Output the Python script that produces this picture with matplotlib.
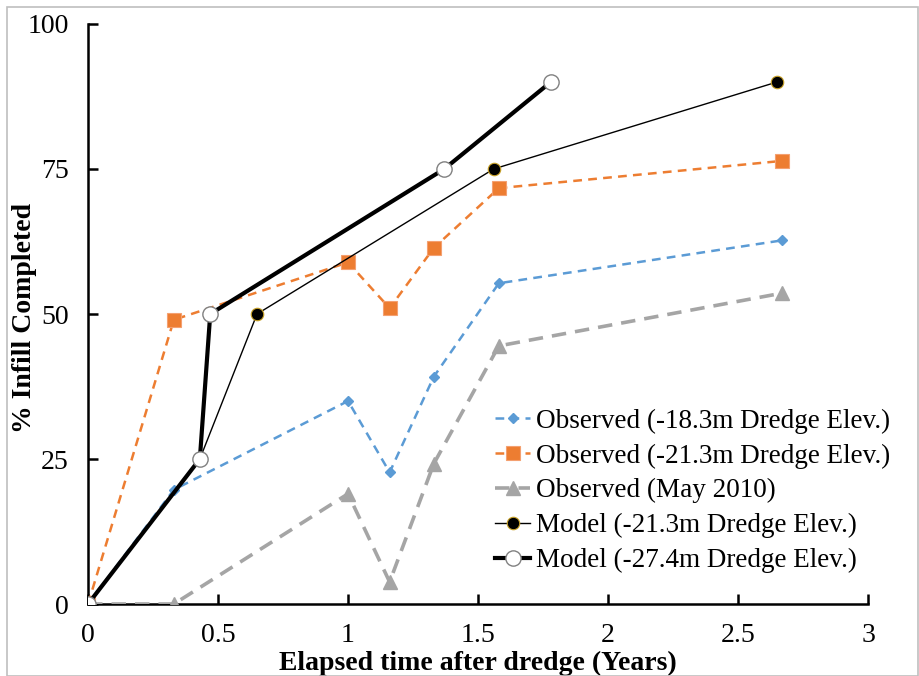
import matplotlib
matplotlib.use('Agg')
import matplotlib.pyplot as plt

plt.rcParams['font.family'] = ['Liberation Serif', 'DejaVu Serif']

# elapsed time (years) and % infill for each series
obs_183_t = [0, 0.33, 1.0, 1.16, 1.33, 1.58, 2.67]
obs_183_v = [0, 19.7, 35.0, 22.7, 39.2, 55.3, 62.7]

obs_213_t = [0, 0.33, 1.0, 1.16, 1.33, 1.58, 2.67]
obs_213_v = [0, 49.0, 58.9, 51.0, 61.4, 71.7, 76.4]

obs_may_t = [0, 0.33, 1.0, 1.16, 1.33, 1.58, 2.67]
obs_may_v = [0, 0, 19.0, 3.8, 24.2, 44.5, 53.6]

mod_213_t = [0, 0.43, 0.65, 1.56, 2.65]
mod_213_v = [0, 25, 50, 75, 90]

mod_274_t = [0, 0.43, 0.47, 1.37, 1.78]
mod_274_v = [0, 25, 50, 75, 90]

xticks = [0, 0.5, 1, 1.5, 2, 2.5, 3]
xticklabels = ['0', '0.5', '1', '1.5', '2', '2.5', '3']
yticks = [0, 25, 50, 75, 100]

fig = plt.figure(figsize=(9.2, 6.76), dpi=100)
ax = fig.add_axes([0.0957, 0.1065, 0.8478, 0.858])

ax.plot(obs_183_t, obs_183_v, color='#5B9BD5', ls=(0, (3.5, 2.5)), lw=1.8,
        marker='D', ms=5.5, mec='#5B9BD5', label='Observed (-18.3m Dredge Elev.)', zorder=3)
ax.plot(obs_213_t, obs_213_v, color='#ED7D31', ls=(0, (3.5, 2.5)), lw=1.8,
        marker='s', ms=10, mec='#F4A070', mew=0.8, label='Observed (-21.3m Dredge Elev.)', zorder=3)
ax.plot(obs_may_t, obs_may_v, color='#A5A5A5', ls=(0, (4, 2.5)), lw=2.6,
        marker='^', ms=10, mec='#A5A5A5', label='Observed (May 2010)', zorder=3)
ax.plot(mod_213_t, mod_213_v, color='black', lw=1.0,
        marker='o', ms=9, mfc='black', mec='#C9A227', mew=0.8,
        label='Model (-21.3m Dredge Elev.)', zorder=4)
ax.plot(mod_274_t, mod_274_v, color='black', lw=3.0,
        marker='o', ms=11, mfc='white', mec='#808080', mew=1.0,
        label='Model (-27.4m Dredge Elev.)', zorder=5)

ax.set_xlim(0, 3)
ax.set_ylim(0, 100)
ax.set_xticks(xticks)
ax.set_xticklabels(xticklabels)
ax.set_yticks(yticks)
ax.tick_params(direction='in', length=7, width=1.8, labelsize=20)
ax.tick_params(axis='y', pad=14)
ax.tick_params(axis='x', pad=14)

for side in ['top', 'right']:
    ax.spines[side].set_visible(False)
for side in ['left', 'bottom']:
    ax.spines[side].set_linewidth(1.8)
ax.patch.set_alpha(0)

ax.set_xlabel('Elapsed time after dredge (Years)', fontsize=20, fontweight='bold')
ax.set_ylabel('% Infill Completed', fontsize=20, fontweight='bold')
ax.xaxis.set_label_coords(0.5, -0.08)
ax.yaxis.set_label_coords(-0.065, 0.493)

leg = ax.legend(loc='upper left', bbox_to_anchor=(0.522, 0.337), frameon=False,
                fontsize=19.5, handlelength=1.3, handletextpad=0.2,
                labelspacing=0.36, borderaxespad=0, borderpad=0)

# thin grey frame around the whole figure
border = plt.Rectangle((0.008, 0.0), 0.99, 0.99, transform=fig.transFigure,
                       fill=False, ec='#BFBFBF', lw=1.2)
fig.add_artist(border)

fig.savefig('out.png', dpi=100)
